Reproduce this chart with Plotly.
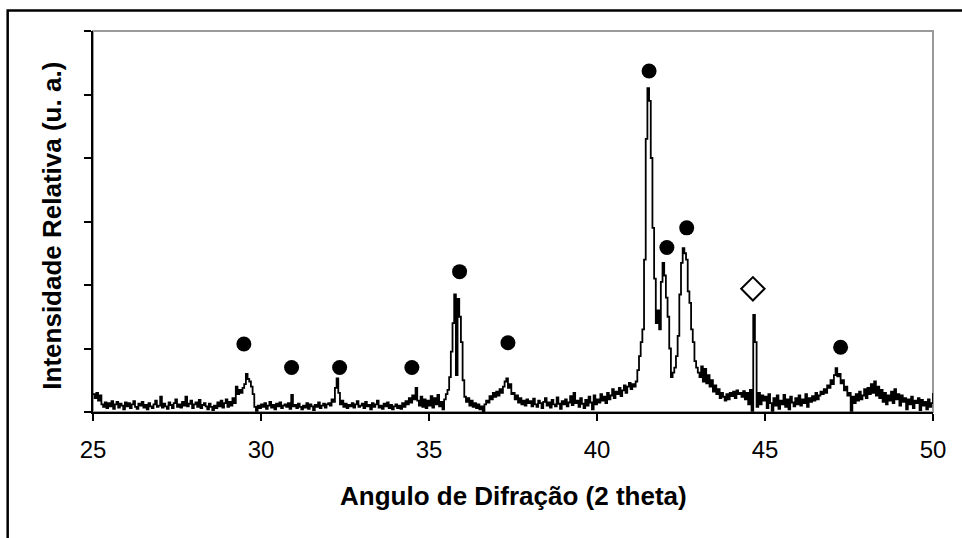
import plotly.graph_objects as go

# ---- data ----
theta_start = 25.0
theta_step = 0.05

intensity_25 = [28, 22, 30, 18, 26, 12, 8, 15, 6, 14, 9, 17, 5, 12, 16, 7, 13, 10, 4, 15]
intensity_26 = [9, 14, 6, 12, 17, 8, 5, 13, 10, 16, 7, 11, 4, 14, 9, 6, 12, 18, 8, 10]
intensity_27 = [24, 7, 13, 9, 5, 15, 11, 6, 14, 20, 8, 12, 7, 16, 10, 24, 9, 13, 18, 6]
intensity_28 = [12, 15, 8, 19, 6, 11, 14, 9, 4, 13, 8, 3, 10, 6, 15, 9, 18, 7, 14, 20]
intensity_29 = [8, 16, 10, 22, 14, 40, 28, 35, 30, 38, 44, 60, 52, 48, 40, 28, 8, 2, 10, 6]
intensity_30 = [12, 8, 14, 5, 10, 16, 7, 11, 4, 13, 9, 15, 6, 10, 12, 8, 14, 5, 27, 9]
intensity_31 = [11, 6, 13, 8, 4, 10, 7, 14, 5, 12, 9, 3, 11, 8, 15, 6, 10, 13, 7, 12]
intensity_32 = [14, 10, 20, 16, 38, 53, 30, 12, 18, 8, 13, 6, 11, 9, 14, 7, 12, 17, 8, 10]
intensity_33 = [13, 6, 16, 9, 11, 4, 14, 8, 12, 18, 7, 10, 5, 13, 9, 15, 6, 11, 4, 9]
intensity_34 = [12, 6, 10, 5, 14, 8, 17, 12, 22, 15, 26, 20, 38, 18, 10, 24, 8, 20, 6, 18]
intensity_35 = [10, 25, 7, 22, 12, 27, 9, 16, 4, 20, 28, 35, 55, 95, 140, 185, 58, 178, 150, 110]
intensity_36 = [50, 24, 16, 22, 10, 18, 8, 14, 6, 12, 4, 9, 1, 12, 18, 15, 25, 20, 30, 24]
intensity_37 = [32, 26, 36, 30, 40, 48, 53, 38, 44, 28, 30, 20, 26, 15, 22, 12, 18, 10, 20, 14]
intensity_38 = [17, 9, 21, 12, 8, 18, 14, 6, 16, 22, 10, 15, 7, 19, 12, 9, 23, 13, 5, 17]
intensity_39 = [12, 20, 9, 15, 25, 11, 30, 14, 18, 8, 22, 13, 6, 19, 10, 24, 15, 4, 26, 12]
intensity_40 = [20, 15, 28, 18, 24, 14, 30, 20, 26, 36, 22, 32, 28, 38, 25, 34, 42, 30, 40, 46]
intensity_41 = [36, 44, 40, 48, 66, 88, 110, 130, 240, 430, 510, 490, 400, 290, 210, 140, 160, 130, 205, 235]
intensity_42 = [215, 180, 150, 100, 55, 62, 70, 88, 120, 185, 235, 258, 250, 240, 190, 172, 130, 110, 80, 70]
intensity_43 = [62, 55, 72, 48, 68, 45, 58, 40, 50, 32, 42, 28, 36, 22, 30, 24, 18, 28, 20, 30]
intensity_44 = [25, 32, 22, 34, 28, 30, 24, 33, 20, 30, 12, 35, 2, 153, 110, 8, 30, 12, 26, 18]
intensity_45 = [24, 6, 28, 14, 2, 22, 10, 26, 5, 18, 12, 27, 8, 20, 4, 24, 15, 9, 22, 12]
intensity_46 = [26, 10, 20, 14, 28, 8, 22, 16, 25, 18, 30, 20, 26, 32, 28, 36, 30, 42, 38, 50]
intensity_47 = [44, 58, 69, 56, 60, 45, 50, 34, 40, 26, 30, 2, 24, 14, 28, 18, 32, 20, 26, 36]
intensity_48 = [22, 38, 28, 44, 30, 48, 26, 40, 22, 35, 16, 30, 12, 26, 18, 32, 14, 36, 20, 28]
intensity_49 = [10, 26, 16, 22, 4, 20, 12, 24, 6, 18, 14, 22, 3, 19, 10, 16, 4, 20, 8, 14]
intensity_50 = [30]

# phase markers (filled circles) and the single open-diamond marker
circle_theta = [29.49, 30.91, 32.34, 34.49, 35.91, 37.35, 41.55, 42.08, 42.67, 47.25]
circle_level = [107, 70, 70, 70, 221, 109, 537, 259, 290, 102]
diamond_theta = [44.64]
diamond_level = [194]

x_ticks = [25, 30, 35, 40, 45, 50]
x_title = "Angulo de Difração (2 theta)"
y_title = "Intensidade Relativa (u. a.)"

# ---- build ----
intensity = (intensity_25 + intensity_26 + intensity_27 + intensity_28 + intensity_29 +
             intensity_30 + intensity_31 + intensity_32 + intensity_33 + intensity_34 +
             intensity_35 + intensity_36 + intensity_37 + intensity_38 + intensity_39 +
             intensity_40 + intensity_41 + intensity_42 + intensity_43 + intensity_44 +
             intensity_45 + intensity_46 + intensity_47 + intensity_48 + intensity_49 +
             intensity_50)
theta = [round(theta_start + i * theta_step, 2) for i in range(len(intensity))]

FONT = "Arial, 'Liberation Sans', sans-serif"

fig = go.Figure()
fig.add_trace(go.Scatter(x=theta, y=intensity, mode="lines",
                         line=dict(color="black", width=1.8, shape="hv"),
                         showlegend=False, hoverinfo="skip"))
fig.add_trace(go.Scatter(x=circle_theta, y=circle_level, mode="markers",
                         marker=dict(symbol="circle", size=15, color="black"),
                         showlegend=False))
fig.add_trace(go.Scatter(x=diamond_theta, y=diamond_level, mode="markers",
                         marker=dict(symbol="diamond", size=18, color="white",
                                     line=dict(color="black", width=2)),
                         showlegend=False))

L, R, T, B = 93.3, 933.0, 31.0, 412.0
W, H = 962, 538

def px(xp):
    return (xp - L) / (R - L)

def py(yp):
    return (B - yp) / (B - T)

fig.update_layout(
    width=W, height=H,
    margin=dict(l=L, r=W - R, t=T, b=H - B, pad=0),
    paper_bgcolor="white", plot_bgcolor="white",
    font=dict(family=FONT, color="black"),
    xaxis=dict(range=[25, 50], tickvals=x_ticks, ticks="outside", ticklen=7,
               tickwidth=1.5, tickcolor="black", showline=True, linecolor="black",
               linewidth=1.5, showgrid=False, zeroline=False,
               ticklabelstandoff=8,
               tickfont=dict(size=24, family=FONT, color="black")),
    yaxis=dict(range=[0, 600], dtick=100, ticks="outside", ticklen=7,
               tickwidth=1.5, tickcolor="black", showline=True, linecolor="black",
               linewidth=1.5, showgrid=False, zeroline=False, showticklabels=False),
    shapes=[
        # plot-area frame (grey top/right)
        dict(type="rect", xref="paper", yref="paper", x0=0, x1=1, y0=0, y1=1,
             line=dict(color="#9a9a9a", width=2), layer="below"),
        # outer chart border
        dict(type="rect", xref="paper", yref="paper", x0=px(8), x1=px(1000),
             y0=py(580), y1=py(10.5), line=dict(color="black", width=2.5),
             layer="below"),
    ],
    annotations=[
        dict(text="<b>" + x_title + "</b>", xref="paper", yref="paper",
             x=0.5, y=py(496), xanchor="center", yanchor="middle",
             showarrow=False, font=dict(size=26, family=FONT, color="black")),
        dict(text="<b>" + y_title + "</b>", xref="paper", yref="paper",
             x=px(52), y=py(226), xanchor="center", yanchor="middle",
             textangle=-90, showarrow=False,
             font=dict(size=26, family=FONT, color="black")),
    ],
)

fig.write_html("out.html")
